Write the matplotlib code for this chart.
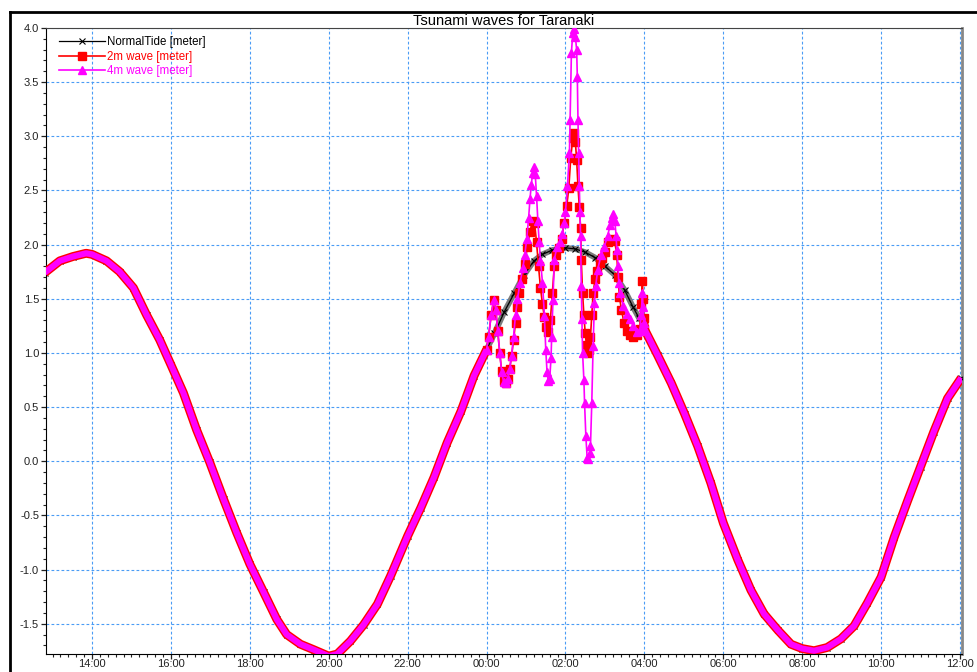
import pandas as pd
import matplotlib
matplotlib.use("Agg")
import matplotlib.pyplot as plt
import matplotlib.dates as mdates
from matplotlib.lines import Line2D
from matplotlib.ticker import MultipleLocator, FormatStrFormatter

plt.rcParams["font.family"] = ["Liberation Sans", "DejaVu Sans"]

# tide before the tsunami (day 1), metres
tide_before_times = ["12:48", "13:11", "13:31", "13:51", "14:00", "14:22", "14:42", "15:03",
                     "15:23", "15:43", "16:00", "16:19", "16:39", "16:59", "17:20", "17:40",
                     "18:00", "18:21", "18:41", "18:56", "19:17", "19:37", "20:00", "20:13",
                     "20:33", "20:53", "21:14", "21:34", "22:00", "22:20", "22:40", "23:00",
                     "23:21", "23:41"]
tide_before = [1.74, 1.85, 1.89, 1.92, 1.91, 1.85, 1.75, 1.60,
               1.35, 1.12, 0.89, 0.63, 0.29, -0.01, -0.35, -0.66,
               -0.95, -1.21, -1.46, -1.60, -1.69, -1.74, -1.80, -1.78,
               -1.66, -1.51, -1.32, -1.06, -0.69, -0.43, -0.15, 0.17,
               0.46, 0.79]

# tide after the tsunami (day 2)
tide_after_times = ["04:00", "04:20", "04:41", "05:01", "05:21", "05:41", "06:00", "06:22",
                    "06:42", "07:02", "07:23", "07:43", "08:00", "08:18", "08:38", "08:59",
                    "09:19", "09:39", "10:00", "10:20", "10:40", "11:00", "11:20", "11:41",
                    "12:02"]
tide_after = [1.22, 0.98, 0.72, 0.44, 0.14, -0.20, -0.57, -0.91,
              -1.19, -1.41, -1.56, -1.69, -1.73, -1.75, -1.72, -1.64,
              -1.52, -1.31, -1.07, -0.70, -0.37, -0.05, 0.27, 0.58,
              0.77]

# event window (day 2)
normal_win_times = ["00:00", "00:12", "00:27", "00:42", "00:57", "01:12", "01:25", "01:40",
                    "02:00", "02:15", "02:30", "02:45", "03:00", "03:15", "03:30", "03:43",
                    "03:52"]
normal_win = [1.03, 1.18, 1.38, 1.55, 1.72, 1.85, 1.91, 1.95,
              1.97, 1.96, 1.93, 1.88, 1.80, 1.72, 1.58, 1.42,
              1.32]

wave2_times = ["00:00", "00:03", "00:07", "00:11", "00:14", "00:17", "00:20", "00:23",
               "00:26", "00:29", "00:32", "00:35", "00:38", "00:41", "00:44", "00:47",
               "00:50", "00:54", "00:58", "01:02", "01:06", "01:10", "01:13", "01:16",
               "01:19", "01:22", "01:25", "01:28", "01:31", "01:34", "01:37", "01:40",
               "01:43", "01:46", "01:50", "01:54", "01:58", "02:02", "02:05", "02:08",
               "02:11", "02:13", "02:15", "02:17", "02:19", "02:21", "02:23", "02:24",
               "02:26", "02:28", "02:30", "02:32", "02:34", "02:36", "02:38", "02:40",
               "02:42", "02:45", "02:48", "02:52", "02:56", "03:00", "03:05", "03:10",
               "03:15", "03:18", "03:20", "03:22", "03:25", "03:29", "03:33", "03:38",
               "03:43", "03:48", "03:53", "03:55", "03:57", "03:58", "03:59"]
wave2 = [1.03, 1.15, 1.35, 1.49, 1.40, 1.20, 1.00, 0.83,
         0.74, 0.72, 0.76, 0.85, 0.97, 1.12, 1.28, 1.42,
         1.55, 1.68, 1.82, 1.98, 2.12, 2.22, 2.20, 2.02,
         1.80, 1.60, 1.45, 1.33, 1.24, 1.19, 1.30, 1.55,
         1.80, 1.90, 1.97, 2.05, 2.20, 2.36, 2.52, 2.80,
         2.98, 3.03, 2.95, 2.78, 2.54, 2.35, 2.15, 1.86,
         1.55, 1.35, 1.18, 1.07, 1.00, 1.03, 1.15, 1.35,
         1.55, 1.68, 1.76, 1.83, 1.88, 1.93, 2.02, 2.05,
         2.03, 1.90, 1.70, 1.52, 1.40, 1.28, 1.20, 1.17,
         1.15, 1.17, 1.22, 1.45, 1.66, 1.50, 1.32]

wave4_times = ["00:00", "00:03", "00:07", "00:11", "00:14", "00:17", "00:20", "00:23",
               "00:26", "00:29", "00:32", "00:35", "00:38", "00:41", "00:44", "00:47",
               "00:51", "00:55", "00:58", "01:01", "01:04", "01:06", "01:08", "01:10",
               "01:12", "01:14", "01:16", "01:18", "01:20", "01:22", "01:25", "01:28",
               "01:30", "01:32", "01:34", "01:36", "01:38", "01:39", "01:41", "01:43",
               "01:47", "01:51", "01:55", "01:58", "02:00", "02:03", "02:06", "02:07",
               "02:09", "02:11", "02:13", "02:15", "02:17", "02:18", "02:19", "02:20",
               "02:21", "02:22", "02:23", "02:24", "02:25", "02:26", "02:28", "02:29",
               "02:31", "02:33", "02:35", "02:37", "02:38", "02:40", "02:42", "02:44",
               "02:46", "02:49", "02:54", "02:59", "03:04", "03:08", "03:11", "03:13",
               "03:15", "03:17", "03:18", "03:20", "03:21", "03:23", "03:28", "03:33",
               "03:38", "03:43", "03:48", "03:53", "03:55", "03:57", "03:58", "03:59"]
wave4 = [1.03, 1.15, 1.35, 1.49, 1.40, 1.20, 1.00, 0.82,
         0.73, 0.72, 0.76, 0.85, 0.97, 1.15, 1.35, 1.50,
         1.65, 1.78, 1.90, 2.05, 2.25, 2.42, 2.55, 2.66,
         2.72, 2.65, 2.45, 2.22, 2.02, 1.85, 1.65, 1.34,
         1.03, 0.82, 0.74, 0.76, 0.95, 1.15, 1.49, 1.86,
         1.98, 2.02, 2.10, 2.20, 2.30, 2.54, 2.85, 3.15,
         3.77, 3.95, 3.99, 3.92, 3.80, 3.55, 3.15, 2.85,
         2.54, 2.30, 2.08, 1.62, 1.31, 1.00, 0.75, 0.54,
         0.23, 0.03, 0.02, 0.08, 0.14, 0.54, 1.06, 1.46,
         1.62, 1.77, 1.90, 1.98, 2.08, 2.18, 2.25, 2.28,
         2.22, 2.08, 1.95, 1.80, 1.65, 1.55, 1.43, 1.36,
         1.31, 1.25, 1.19, 1.20, 1.35, 1.55, 1.42, 1.28]


def to_time(labels, day):
    return pd.to_datetime([f"2000-01-{day:02d} {s}" for s in labels])


t_before = to_time(tide_before_times, 1)
t_after = to_time(tide_after_times, 2)
t_normal = to_time(normal_win_times, 2)
t_w2 = to_time(wave2_times, 2)
t_w4 = to_time(wave4_times, 2)

fig = plt.figure(figsize=(9.78, 6.72), dpi=100)
ax = fig.add_axes([46 / 978, 1 - 654 / 672, 916 / 978, 626 / 672])

# normal tide
t_all = t_before.append(t_normal).append(t_after)
v_all = tide_before + normal_win + tide_after
ax.plot(t_normal, normal_win, color="#7a7a7a", lw=4.2, solid_joinstyle="round", zorder=2)
ax.plot(t_all, v_all, color="black", lw=0.9, marker="x", ms=5, mew=0.8,
        label="NormalTide [meter]", zorder=3)


def draw_wave(t_win, v_win, color, marker, ms, band_lw, label, z):
    # smooth parts drawn as a thick band, the tsunami part as marked points
    ax.plot(t_before.append(t_win[:1]), tide_before + v_win[:1], color=color,
            lw=band_lw, solid_capstyle="butt", solid_joinstyle="round", zorder=z)
    ax.plot(t_win[-1:].append(t_after), v_win[-1:] + tide_after, color=color,
            lw=band_lw, solid_capstyle="butt", solid_joinstyle="round", zorder=z)
    ax.plot(t_win.append(t_after[:1]), v_win + tide_after[:1], color=color, lw=1.2,
            marker=marker, ms=ms, mec=color, mfc=color, label=label, zorder=z + 1)


draw_wave(t_w2, wave2, "red", "s", 5.4, 6.4, "2m wave [meter]", 4)
draw_wave(t_w4, wave4, "magenta", "^", 5.4, 4.4, "4m wave [meter]", 6)

ax.set_xlim(pd.Timestamp("2000-01-01 12:50"), pd.Timestamp("2000-01-02 12:03"))
ax.set_ylim(-1.78, 4.0)

ax.xaxis.set_major_locator(mdates.HourLocator(byhour=range(0, 24, 2)))
ax.xaxis.set_minor_locator(mdates.MinuteLocator(byminute=[0, 12, 24, 36, 48]))
ax.xaxis.set_major_formatter(mdates.DateFormatter("%H:%M"))
ax.yaxis.set_major_locator(MultipleLocator(0.5))
ax.yaxis.set_minor_locator(MultipleLocator(0.1))
ax.yaxis.set_major_formatter(FormatStrFormatter("%.1f"))

ax.tick_params(which="major", length=3.5, width=0.9, labelsize=8, colors="#222222", pad=1.5)
ax.tick_params(which="minor", length=2, width=0.8, colors="#222222")
ax.tick_params(axis="x", which="major", pad=0.3)

ax.grid(True, which="major", color="#4a9cf5", lw=0.8, linestyle=(0, (2.5, 2)))
ax.set_axisbelow(True)

ax.spines["left"].set_color("black")
ax.spines["bottom"].set_color("black")
ax.spines["top"].set_color("#444444")
ax.spines["right"].set_color("#888888")
ax.spines["right"].set_linewidth(2)

ax.set_title("Tsunami waves for Taranaki", fontsize=10.5, pad=1.5)

ax.legend(loc="upper left", bbox_to_anchor=(13 / 916, 1 - 8.5 / 626), frameon=False,
          fontsize=8.3, handlelength=4.0, handletextpad=0.2, labelspacing=0.2,
          borderpad=0, borderaxespad=0, labelcolor="linecolor")

# outer frame of the chart window (left and top edges)
fig.add_artist(Line2D([9.5 / 978, 9.5 / 978], [0, 1 - 12 / 672], transform=fig.transFigure,
                      color="black", lw=2, solid_capstyle="projecting"))
fig.add_artist(Line2D([9.5 / 978, 1], [1 - 12 / 672, 1 - 12 / 672], transform=fig.transFigure,
                      color="black", lw=2, solid_capstyle="projecting"))

fig.savefig("out.png", dpi=100)
